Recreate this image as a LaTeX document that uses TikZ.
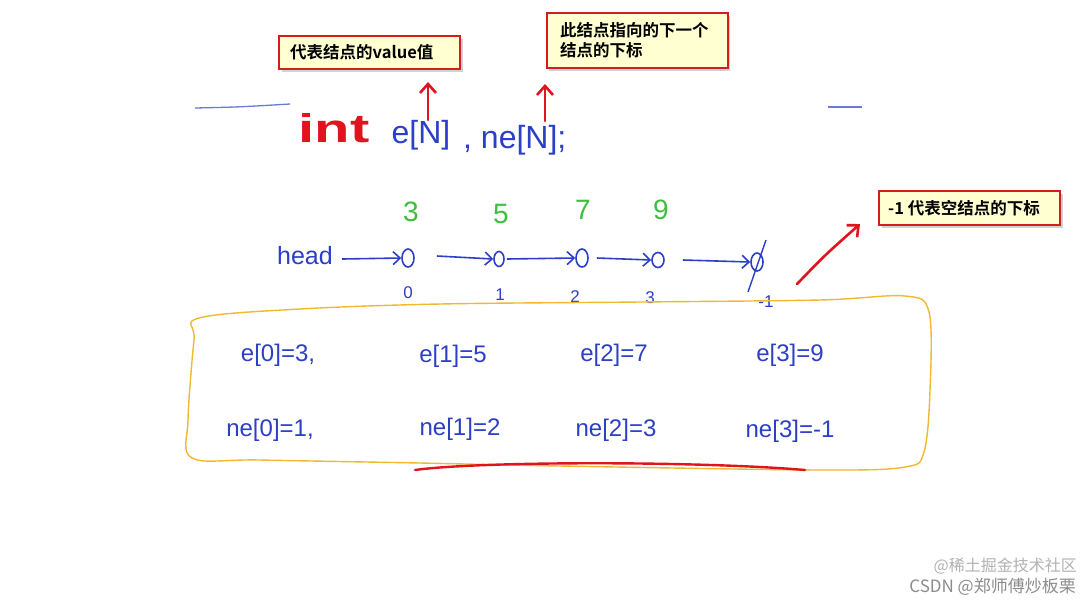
\documentclass[tikz,border=0pt]{standalone}
\usepackage{fontspec}
\setmainfont{Liberation Sans}
\newfontfamily\cjk{Noto Sans CJK SC}[BoldFont={* Bold}]
\newfontfamily\hand{Liberation Sans}
\usetikzlibrary{arrows.meta,shadows,shapes.geometric}
\definecolor{inkblue}{HTML}{2C3FC6}
\definecolor{inkgreen}{HTML}{3CBF3C}
\definecolor{inkred}{HTML}{E0141E}
\definecolor{inkyellow}{HTML}{F2B830}
\definecolor{notefill}{HTML}{FFFFD2}
\definecolor{noteline}{HTML}{D41E1E}
\tikzset{
  note/.style={draw=noteline, line width=2pt, fill=notefill, minimum width=181pt,
    inner sep=0pt, drop shadow={opacity=0.35, shadow xshift=2.5pt, shadow yshift=-2.5pt}},
  notetext/.style={font=\cjk\bfseries\fontsize{16.5}{20}\selectfont, align=left, anchor=west, inner sep=0pt},
  blueink/.style={text=inkblue, font=\hand\fontsize{24}{24}\selectfont, inner sep=1pt},
  greenink/.style={text=inkgreen, font=\hand\fontsize{28}{28}\selectfont, inner sep=0pt},
  idx/.style={text=inkblue, font=\hand\fontsize{17}{17}\selectfont, inner sep=0pt},
  lnode/.style={draw=inkblue, line width=1.6pt, ellipse, minimum width=12pt, minimum height=18pt, inner sep=0pt},
  larrow/.style={draw=inkblue, line width=1.6pt, -{Straight Barb[length=7pt,width=13pt]}},
  redarrow/.style={draw=inkred, line width=2.6pt, line cap=round, -{Straight Barb[length=9pt,width=16pt]}},
  blueline/.style={draw=inkblue!70, line width=1.3pt},
}
\begin{document}
\begin{tikzpicture}[x=1pt,y=-1pt]
\useasboundingbox[fill=white] (0,0) rectangle (1091,603);

% callouts
\node[note, minimum height=33pt] (c1) at (369.5,52.5) {};
\node[notetext] (c1t) at (290,52) {代表结点的value值};
\node[note, minimum height=55pt] (c2) at (637,40.5) {};
\node[notetext] (c2t) at (560,40) {此结点指向的下一个\\结点的下标};
\node[note, minimum height=34pt] (c3) at (969.5,208) {};
\node[notetext] (c3t) at (888,208) {-1 代表空结点的下标};

% declaration line
\draw[blueline] (195,108) .. controls (240,107) .. (290,104);
\draw[blueline] (828,107) -- (862,107);
\node[text=inkred, font=\hand\bfseries\fontsize{40}{40}\selectfont, xscale=1.45, inner sep=0pt] (int) at (334,128) {int};
\node[blueink, font=\hand\fontsize{32}{32}\selectfont] (eN) at (421,135) {e[N]};
\node[blueink, font=\hand\fontsize{32}{32}\selectfont, anchor=west] (neN) at (462,140) {, ne[N];};

% red arrows to callouts
\coordinate (a1s) at (428,120);
\coordinate (a1e) at (428,82);
\draw[redarrow] (a1s) -- (a1e);
\coordinate (a2s) at (545,121);
\coordinate (a2e) at (545,84);
\draw[redarrow] (a2s) -- (a2e);
\coordinate (a3s) at (797,284);
\coordinate (a3e) at (860,224);
\draw[redarrow] (a3s) .. controls (825,255) .. (a3e);

% values
\node[greenink] (v0) at (411,212) {3};
\node[greenink] (v1) at (501,214) {5};
\node[greenink] (v2) at (583,210) {7};
\node[greenink] (v3) at (661,210) {9};

% linked list
\node[blueink, font=\hand\fontsize{25}{25}\selectfont] (head) at (305,256) {head};
\node[lnode] (n0) at (408,258) {};
\node[lnode, minimum width=10pt, minimum height=15pt] (n1) at (499,259) {};
\node[lnode] (n2) at (582,258) {};
\node[lnode, minimum height=15pt] (n3) at (658,260) {};
\node[lnode, minimum height=18pt] (nul) at (757,262) {};
\coordinate (slashA) at (766,240);
\coordinate (slashB) at (748,292);
\draw[draw=inkblue, line width=1.4pt] (slashA) -- (slashB);
\draw[larrow] (head.east) ++(8,3) -- (n0.west);
\draw[larrow] (n0.east) ++(22,-2) -- (n1.west);
\draw[larrow] (n1.east) ++(2,0) -- (n2.west);
\draw[larrow] (n2.east) ++(8,0) -- (n3.west);
\draw[larrow] (n3.east) ++(18,0) -- (nul.west);

% indices
\node[idx] (i0) at (408,293) {0};
\node[idx] (i1) at (500,295) {1};
\node[idx] (i2) at (575,297) {2};
\node[idx] (i3) at (650,298) {3};
\node[idx] (i4) at (766,302) {-1};

% yellow box
\draw[inkyellow, line width=1.4pt] plot[smooth cycle, tension=0.55] coordinates {
  (199,318) (300,309) (440,304) (640,302) (820,300) (905,296) (929,312)
  (930,390) (924,452) (905,467) (820,470) (560,466) (420,463) (260,460)
  (192,458) (188,420) (194,340)};

% equations
\node[blueink] (e0) at (278,355) {e[0]=3,};
\node[blueink] (e1) at (453,356) {e[1]=5};
\node[blueink] (e2) at (614,355) {e[2]=7};
\node[blueink] (e3) at (790,355) {e[3]=9};
\node[blueink] (ne0) at (270,430) {ne[0]=1,};
\node[blueink] (ne1) at (460,429) {ne[1]=2};
\node[blueink] (ne2) at (616,430) {ne[2]=3};
\node[blueink] (ne3) at (790,431) {ne[3]=-1};

% red underline
\coordinate (u0) at (415,470);
\coordinate (u1) at (805,470);
\draw[inkred, line width=2.4pt, line cap=round] (u0) .. controls (480,461) and (700,461) .. (u1);

% watermark
\node[text=black!30, font=\cjk\fontsize{16}{16}\selectfont, anchor=east, inner sep=0pt] (wm1) at (1077,566) {@稀土掘金技术社区};
\node[text=black!45, font=\cjk\fontsize{17}{17}\selectfont, anchor=east, inner sep=0pt] (wm2) at (1076,587) {CSDN @郑师傅炒板栗};
\end{tikzpicture}
\end{document}
